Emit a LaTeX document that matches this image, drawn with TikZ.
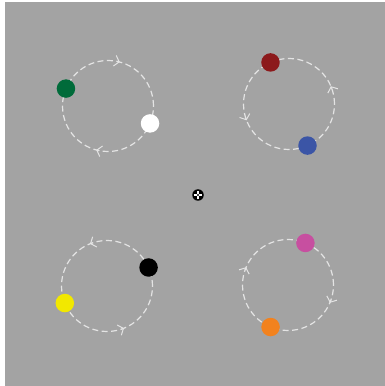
\documentclass[tikz,border=0pt]{standalone}
\usetikzlibrary{arrows.meta}
\definecolor{bg}{HTML}{A3A3A3}
\definecolor{ring}{HTML}{E4E4E4}
\definecolor{dgreen}{HTML}{006B3A}
\definecolor{dred}{HTML}{8C1A1C}
\definecolor{dblue}{HTML}{3B55A6}
\definecolor{dyellow}{HTML}{F2E800}
\definecolor{dpink}{HTML}{C74FA0}
\definecolor{dorange}{HTML}{F2821E}
\tikzset{
  orbit/.style={draw=ring, line width=1.2bp, dash pattern=on 6bp off 3.5bp},
  tip/.style={draw=ring, line width=1bp, -{Straight Barb[length=4.5bp,width=11bp]}},
  dot/.style={circle, inner sep=0pt, minimum size=18.5bp, draw=none},
}
\begin{document}
\begin{tikzpicture}[x=1bp,y=1bp]
\useasboundingbox (0,0) rectangle (385,386);
\fill[white] (0,0) rectangle (385,386);
\fill[bg] (5,0) rectangle (385,384);
\def\R{45.5}
% centers
\coordinate (TL) at (108,280);
\coordinate (TR) at (289,282);
\coordinate (BL) at (107,100);
\coordinate (BR) at (288,101);
% orbits
\draw[orbit] (TL) circle[radius=\R];
\draw[orbit] (TR) circle[radius=\R];
\draw[orbit] (BL) circle[radius=\R];
\draw[orbit] (BR) circle[radius=\R];
% arrow heads (TL clockwise)
\draw[tip] ([shift={(79:\R)}]TL) arc[start angle=79,end angle=75,radius=\R];
\draw[tip] ([shift={(259:\R)}]TL) arc[start angle=259,end angle=255,radius=\R];
% TR counterclockwise
\draw[tip] ([shift={(19:\R)}]TR) arc[start angle=19,end angle=23,radius=\R];
\draw[tip] ([shift={(197:\R)}]TR) arc[start angle=197,end angle=201,radius=\R];
% BL counterclockwise
\draw[tip] ([shift={(108:\R)}]BL) arc[start angle=108,end angle=112,radius=\R];
\draw[tip] ([shift={(288:\R)}]BL) arc[start angle=288,end angle=292,radius=\R];
% BR clockwise
\draw[tip] ([shift={(161:\R)}]BR) arc[start angle=161,end angle=157,radius=\R];
\draw[tip] ([shift={(341:\R)}]BR) arc[start angle=341,end angle=337,radius=\R];
% dots
\node[dot, fill=dgreen] (green) at ([shift={(157.5:\R)}]TL) {};
\node[dot, fill=white] (white) at ([shift={(-22.5:\R)}]TL) {};
\node[dot, fill=dred] (red) at ([shift={(114:\R)}]TR) {};
\node[dot, fill=dblue] (blue) at ([shift={(-66:\R)}]TR) {};
\node[dot, fill=black] (black) at ([shift={(24:\R)}]BL) {};
\node[dot, fill=dyellow] (yellow) at ([shift={(202:\R)}]BL) {};
\node[dot, fill=dpink] (pink) at ([shift={(67.5:\R)}]BR) {};
\node[dot, fill=dorange] (orange) at ([shift={(247.5:\R)}]BR) {};
% fixation target
\node[circle, fill=black, inner sep=0pt, minimum size=11.5bp] (fix) at (198,191) {};
\draw[white, line width=1.1bp] ([xshift=-4.4bp]fix.center) -- ([xshift=4.4bp]fix.center);
\draw[white, line width=1.1bp] ([yshift=-4.4bp]fix.center) -- ([yshift=4.4bp]fix.center);
\node[circle, fill=black, inner sep=0pt, minimum size=2.4bp] (fixc) at (fix.center) {};
\end{tikzpicture}
\end{document}
